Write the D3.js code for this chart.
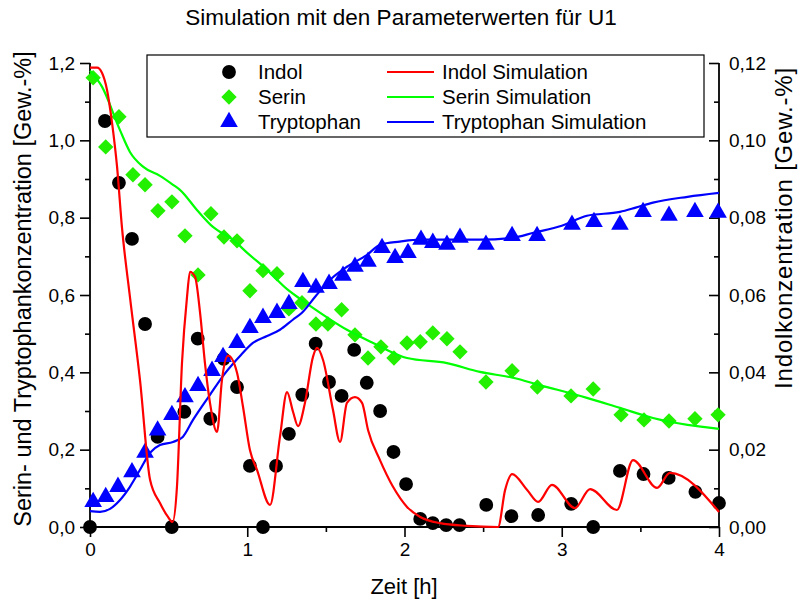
<!DOCTYPE html>
<html>
<head>
<meta charset="utf-8">
<script src="https://cdn.jsdelivr.net/npm/d3@7"></script>
<style>
  body { margin: 0; background: #fff; }
  text { font-family: "Liberation Sans", Arial, sans-serif; fill: #000; }
</style>
</head>
<body>
<div id="chart"></div>
<script>
// measured points (Zeit [h])
const indolT = [0, 0.095, 0.184, 0.267, 0.35, 0.43, 0.52, 0.60, 0.685, 0.765, 0.85, 0.935, 1.017, 1.10, 1.183, 1.265, 1.35, 1.435, 1.52, 1.60, 1.68, 1.76, 1.845, 1.93, 2.01, 2.10, 2.18, 2.265, 2.35, 2.52, 2.68, 2.85, 3.06, 3.20, 3.37, 3.52, 3.68, 3.85, 4.0];
const indolVal = [0, 0.105, 0.089, 0.0745, 0.0525, 0.0233, 0.0, 0.0298, 0.0487, 0.028, 0.0435, 0.0362, 0.0158, 0.0, 0.0158, 0.0241, 0.0342, 0.0474, 0.0375, 0.0339, 0.0458, 0.0373, 0.030, 0.0194, 0.0111, 0.0021, 0.001, 0.0005, 0.0005, 0.0057, 0.0028, 0.0031, 0.006, 0.0, 0.0145, 0.0137, 0.0127, 0.0091, 0.0062];

const serinT = [0.02, 0.10, 0.184, 0.273, 0.35, 0.432, 0.521, 0.604, 0.687, 0.769, 0.852, 0.935, 1.017, 1.10, 1.189, 1.265, 1.348, 1.437, 1.513, 1.60, 1.685, 1.768, 1.85, 1.933, 2.016, 2.10, 2.18, 2.27, 2.353, 2.518, 2.684, 2.845, 3.059, 3.20, 3.377, 3.523, 3.682, 3.847, 3.994];
const serinVal = [1.162, 0.983, 1.061, 0.911, 0.885, 0.818, 0.841, 0.753, 0.652, 0.810, 0.750, 0.740, 0.611, 0.663, 0.655, 0.564, 0.580, 0.525, 0.525, 0.562, 0.497, 0.437, 0.466, 0.437, 0.476, 0.479, 0.502, 0.487, 0.453, 0.375, 0.404, 0.362, 0.339, 0.357, 0.290, 0.277, 0.274, 0.280, 0.290];

const tryT = [0.02, 0.10, 0.178, 0.267, 0.35, 0.43, 0.521, 0.604, 0.687, 0.776, 0.846, 0.935, 1.017, 1.10, 1.189, 1.265, 1.354, 1.437, 1.52, 1.609, 1.685, 1.768, 1.857, 1.94, 2.022, 2.105, 2.18, 2.27, 2.353, 2.518, 2.684, 2.843, 3.065, 3.205, 3.37, 3.517, 3.682, 3.847, 3.994];
const tryVal = [0.065, 0.078, 0.104, 0.142, 0.192, 0.25, 0.290, 0.336, 0.365, 0.404, 0.44, 0.476, 0.515, 0.541, 0.554, 0.577, 0.634, 0.619, 0.629, 0.650, 0.673, 0.686, 0.722, 0.696, 0.709, 0.743, 0.735, 0.730, 0.748, 0.730, 0.753, 0.753, 0.782, 0.789, 0.782, 0.815, 0.805, 0.815, 0.813];

// simulation curves
const indolSimT = [0, 0.045, 0.076, 0.108, 0.14, 0.172, 0.203, 0.254, 0.318, 0.382, 0.445, 0.496, 0.525, 0.553, 0.585, 0.617, 0.636, 0.668, 0.70, 0.731, 0.763, 0.808, 0.839, 0.878, 0.935, 0.973, 1.017, 1.062, 1.145, 1.208, 1.253, 1.291, 1.323, 1.367, 1.418, 1.444, 1.482, 1.545, 1.59, 1.634, 1.685, 1.73, 1.768, 1.844, 1.927, 2.016, 2.10, 2.226, 2.397, 2.595, 2.64, 2.684, 2.78, 2.85, 2.938, 3.084, 3.18, 3.351, 3.453, 3.606, 3.688, 4.0];
const indolSimVal = [0.1188, 0.1188, 0.1175, 0.1131, 0.1046, 0.0932, 0.0776, 0.0595, 0.038, 0.0122, 0.0062, 0.0026, 0.0013, 0.0104, 0.0424, 0.0595, 0.066, 0.0647, 0.0554, 0.0424, 0.0321, 0.0246, 0.038, 0.0443, 0.0399, 0.0311, 0.0199, 0.0148, 0.0057, 0.0233, 0.0349, 0.0298, 0.0261, 0.0321, 0.044, 0.0463, 0.0432, 0.0303, 0.022, 0.0321, 0.0336, 0.0321, 0.0251, 0.0173, 0.0104, 0.0052, 0.0026, 0.001, 0.0003, 0, 0.0096, 0.0137, 0.0096, 0.0065, 0.0109, 0.0049, 0.0098, 0.0044, 0.0173, 0.0101, 0.014, 0.0039];

const serinSimT = [0, 0.076, 0.19, 0.254, 0.337, 0.445, 0.528, 0.572, 0.68, 0.782, 0.909, 1.0, 1.126, 1.253, 1.336, 1.399, 1.634, 1.8, 2.016, 2.27, 2.48, 2.69, 2.86, 3.16, 3.37, 3.58, 3.8, 4.0];
const serinSimVal = [1.18, 1.139, 1.027, 0.970, 0.932, 0.908, 0.885, 0.872, 0.820, 0.776, 0.743, 0.709, 0.665, 0.615, 0.590, 0.572, 0.510, 0.476, 0.437, 0.424, 0.401, 0.386, 0.367, 0.334, 0.308, 0.282, 0.264, 0.254];

const trySimT = [0, 0.064, 0.127, 0.191, 0.254, 0.318, 0.382, 0.445, 0.528, 0.59, 0.655, 0.763, 0.85, 0.96, 1.036, 1.126, 1.208, 1.29, 1.348, 1.437, 1.526, 1.634, 1.762, 1.845, 1.97, 2.1, 2.27, 2.48, 2.69, 2.82, 3.0, 3.16, 3.37, 3.47, 3.58, 3.8, 4.0];
const trySimVal = [0.041, 0.039, 0.047, 0.070, 0.104, 0.148, 0.192, 0.212, 0.220, 0.233, 0.277, 0.342, 0.393, 0.445, 0.476, 0.494, 0.510, 0.536, 0.554, 0.598, 0.639, 0.673, 0.704, 0.730, 0.738, 0.743, 0.743, 0.743, 0.748, 0.761, 0.779, 0.805, 0.815, 0.826, 0.839, 0.854, 0.864];

const xTicks = [0, 1, 2, 3, 4];
const xMinor = [0.5, 1.5, 2.5, 3.5];
const leftTicks = [0, 0.2, 0.4, 0.6, 0.8, 1.0, 1.2];
const leftMinor = [0.1, 0.3, 0.5, 0.7, 0.9, 1.1];
const rightTicks = [0, 0.02, 0.04, 0.06, 0.08, 0.10, 0.12];
const rightMinor = [0.01, 0.03, 0.05, 0.07, 0.09, 0.11];

const W = 798, H = 600;
const margin = { top: 63, right: 79, bottom: 73, left: 90 };

const svg = d3.select('#chart').append('svg')
  .attr('width', W)
  .attr('height', H);

const x = d3.scaleLinear().domain([0, 4]).range([margin.left, W - margin.right]);
const yL = d3.scaleLinear().domain([0, 1.2]).range([H - margin.bottom, margin.top]);
const yR = d3.scaleLinear().domain([0, 0.12]).range([H - margin.bottom, margin.top]);

const comma = f => d => d3.format(f)(d).replace('.', ',');

// axes
function styleAxis(g) {
  g.select('.domain').remove();
  g.selectAll('.tick line').attr('stroke', '#000').attr('stroke-width', 1.6);
  g.selectAll('.tick text').style('font-size', '19px').attr('fill', '#000');
}

svg.append('g')
  .attr('transform', `translate(${margin.left},0)`)
  .call(d3.axisLeft(yL).tickValues(leftTicks).tickFormat(comma('.1f')).tickSize(10).tickPadding(5))
  .call(styleAxis);
svg.append('g')
  .attr('transform', `translate(${margin.left},0)`)
  .call(d3.axisLeft(yL).tickValues(leftMinor).tickFormat('').tickSize(5))
  .call(styleAxis);

svg.append('g')
  .attr('transform', `translate(${W - margin.right},0)`)
  .call(d3.axisRight(yR).tickValues(rightTicks).tickFormat(comma('.2f')).tickSize(-10).tickPadding(10))
  .call(styleAxis);
svg.append('g')
  .attr('transform', `translate(${W - margin.right},0)`)
  .call(d3.axisRight(yR).tickValues(rightMinor).tickFormat('').tickSize(-5))
  .call(styleAxis);

svg.append('g')
  .attr('transform', `translate(0,${H - margin.bottom})`)
  .call(d3.axisBottom(x).tickValues(xTicks).tickFormat(d3.format('d')).tickSize(10).tickPadding(6))
  .call(styleAxis);
svg.append('g')
  .attr('transform', `translate(0,${H - margin.bottom})`)
  .call(d3.axisBottom(x).tickValues(xMinor).tickFormat('').tickSize(5))
  .call(styleAxis);

// axis lines (no top frame)
const frame = svg.append('g').attr('stroke', '#000').attr('stroke-width', 1.8).attr('fill', 'none');
frame.append('line').attr('x1', x(0)).attr('x2', x(0)).attr('y1', yL(0) + 1).attr('y2', yL(1.2));
frame.append('line').attr('x1', x(4)).attr('x2', x(4)).attr('y1', yL(0) + 1).attr('y2', yL(1.2));
frame.append('line').attr('x1', x(0)).attr('x2', x(4)).attr('y1', yL(0)).attr('y2', yL(0));

// scatter markers
const circleSym = d3.symbol().type(d3.symbolCircle).size(150);
const squareSym = d3.symbol().type(d3.symbolSquare).size(118); // drawn rotated 45° as a diamond
const triangleSym = d3.symbol().type(d3.symbolTriangle).size(135);

svg.append('g').selectAll('path')
  .data(d3.zip(indolT, indolVal))
  .enter().append('path')
  .attr('d', circleSym)
  .attr('transform', d => `translate(${x(d[0])},${yR(d[1])})`)
  .attr('fill', '#000');

svg.append('g').selectAll('path')
  .data(d3.zip(serinT, serinVal))
  .enter().append('path')
  .attr('d', squareSym)
  .attr('transform', d => `translate(${x(d[0])},${yL(d[1])}) rotate(45)`)
  .attr('fill', '#22f000');

svg.append('g').selectAll('path')
  .data(d3.zip(tryT, tryVal))
  .enter().append('path')
  .attr('d', triangleSym)
  .attr('transform', d => `translate(${x(d[0])},${yL(d[1])})`)
  .attr('fill', '#0000ff');

// simulation lines
const lineL = d3.line().curve(d3.curveMonotoneX).x(d => x(d[0])).y(d => yL(d[1]));
const lineR = d3.line().curve(d3.curveMonotoneX).x(d => x(d[0])).y(d => yR(d[1]));

svg.append('path')
  .datum(d3.zip(serinSimT, serinSimVal))
  .attr('fill', 'none').attr('stroke', '#00ff00').attr('stroke-width', 2.2)
  .attr('d', lineL);
svg.append('path')
  .datum(d3.zip(trySimT, trySimVal))
  .attr('fill', 'none').attr('stroke', '#0000ff').attr('stroke-width', 2.2)
  .attr('d', lineL);
svg.append('path')
  .datum(d3.zip(indolSimT, indolSimVal))
  .attr('fill', 'none').attr('stroke', '#ff0000').attr('stroke-width', 2.2)
  .attr('d', lineR);

// legend
const legend = svg.append('g');
legend.append('rect')
  .attr('x', 147).attr('y', 55).attr('width', 557).attr('height', 82)
  .attr('fill', '#fff').attr('stroke', '#000').attr('stroke-width', 1.2);

const legendItems = [
  { name: 'Indol', sym: circleSym, color: '#000', rot: 0 },
  { name: 'Serin', sym: squareSym, color: '#22f000', rot: 45 },
  { name: 'Tryptophan', sym: triangleSym, color: '#0000ff', rot: 0 }
];
const legendLines = [
  { name: 'Indol Simulation', color: '#ff0000' },
  { name: 'Serin Simulation', color: '#00ff00' },
  { name: 'Tryptophan Simulation', color: '#0000ff' }
];
const rowY = [72, 97, 122];

legendItems.forEach((d, i) => {
  legend.append('path')
    .attr('d', d.sym)
    .attr('transform', `translate(229,${rowY[i]}) rotate(${d.rot})`)
    .attr('fill', d.color);
  legend.append('text')
    .attr('x', 258).attr('y', rowY[i] + 7)
    .style('font-size', '20.5px')
    .text(d.name);
});
legendLines.forEach((d, i) => {
  legend.append('line')
    .attr('x1', 387).attr('x2', 434)
    .attr('y1', rowY[i]).attr('y2', rowY[i])
    .attr('stroke', d.color).attr('stroke-width', 2.2);
  legend.append('text')
    .attr('x', 442).attr('y', rowY[i] + 7)
    .style('font-size', '20.5px')
    .text(d.name);
});

// titles
svg.append('text')
  .attr('x', 401).attr('y', 25)
  .attr('text-anchor', 'middle')
  .style('font-size', '22.5px')
  .text('Simulation mit den Parameterwerten für U1');

svg.append('text')
  .attr('x', 404).attr('y', 594)
  .attr('text-anchor', 'middle')
  .style('font-size', '22px')
  .text('Zeit [h]');

svg.append('text')
  .attr('transform', 'translate(31,289) rotate(-90)')
  .attr('text-anchor', 'middle')
  .style('font-size', '23.5px')
  .text('Serin- und Tryptophankonzentration [Gew.-%]');

svg.append('text')
  .attr('transform', 'translate(792,228) rotate(-90)')
  .attr('text-anchor', 'middle')
  .style('font-size', '24px')
  .style('letter-spacing', '0.8px')
  .text('Indolkonzentration [Gew.-%]');
</script>
</body>
</html>
